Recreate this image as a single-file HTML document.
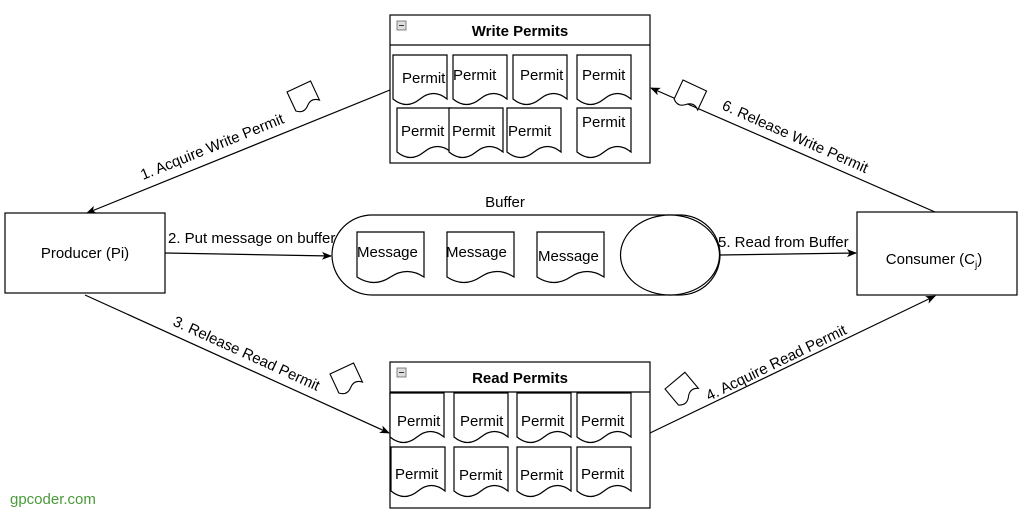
<!DOCTYPE html>
<html><head><meta charset="utf-8"><style>
html,body{margin:0;padding:0;background:#fff;}
svg{display:block;font-family:"Liberation Sans",sans-serif;}
</style></head><body>
<svg width="1024" height="518" viewBox="0 0 1024 518" xmlns="http://www.w3.org/2000/svg">
<defs>
<path id="doc" d="M0,0 H54 V44 Q40.5,33 27,44 T0,44 Z" fill="#fff" stroke="#000" stroke-width="1.2"/>
<path id="mdoc" d="M0,0 H67 V45 Q50,34 33.5,45 T0,45 Z" fill="#fff" stroke="#000" stroke-width="1.2"/>
<path id="sdoc" d="M0,0 H26 V21 Q19.5,15 13,21 T0,21 Z" fill="#fff" stroke="#000" stroke-width="1.1"/>
<marker id="ah" markerWidth="10" markerHeight="10" refX="9" refY="5" orient="auto" markerUnits="userSpaceOnUse">
<path d="M0,1 L10,5 L0,9 L2.5,5 Z" fill="#000"/>
</marker>
</defs>
<g stroke="#000" stroke-width="1.2" fill="none">
<line x1="390" y1="90" x2="87" y2="213" marker-end="url(#ah)"/>
<line x1="935" y1="212" x2="651" y2="88" marker-end="url(#ah)"/>
<line x1="165" y1="253" x2="331" y2="256" marker-end="url(#ah)"/>
<line x1="720" y1="255" x2="856" y2="253" marker-end="url(#ah)"/>
<line x1="85" y1="295" x2="389" y2="433" marker-end="url(#ah)"/>
<line x1="650" y1="433" x2="935" y2="296" marker-end="url(#ah)"/>
</g>
<rect x="5" y="213" width="160" height="80" fill="#fff" stroke="#000" stroke-width="1.2"/>
<text x="85" y="258" font-size="15" text-anchor="middle">Producer (Pi)</text>
<rect x="857" y="212" width="160" height="83" fill="#fff" stroke="#000" stroke-width="1.2"/>
<text x="934" y="264" font-size="15" text-anchor="middle">Consumer (C<tspan font-size="10" dy="4">j</tspan><tspan dy="-4">)</tspan></text>
<text x="505" y="207" font-size="15" text-anchor="middle">Buffer</text>
<rect x="332" y="215" width="388" height="80" rx="40" ry="40" fill="#fff" stroke="#000" stroke-width="1.2"/>
<ellipse cx="670" cy="255" rx="49.5" ry="40" fill="#fff" stroke="#000" stroke-width="1.2"/>
<use href="#mdoc" x="357" y="232"/><use href="#mdoc" x="447" y="232"/><use href="#mdoc" x="537" y="232"/>
<g font-size="15"><text x="357" y="257">Message</text><text x="446" y="257">Message</text><text x="538" y="261">Message</text></g>
<rect x="390" y="15" width="260" height="148" fill="#fff" stroke="#000" stroke-width="1.2"/>
<line x1="390" y1="45" x2="650" y2="45" stroke="#000" stroke-width="1.2"/>
<rect x="397" y="21" width="9" height="9" fill="#ddd" stroke="#666" stroke-width="0.8"/><line x1="399" y1="25.5" x2="404" y2="25.5" stroke="#333"/>
<text x="520" y="36" font-size="15" font-weight="bold" text-anchor="middle">Write Permits</text>
<use href="#doc" x="393" y="55"/><use href="#doc" x="453" y="55"/><use href="#doc" x="513" y="55"/><use href="#doc" x="577" y="55"/>
<use href="#doc" x="397" y="108"/><use href="#doc" x="449" y="108"/><use href="#doc" x="507" y="108"/><use href="#doc" x="577" y="108"/>
<g font-size="15"><text x="402" y="83">Permit</text><text x="453" y="80">Permit</text><text x="520" y="80">Permit</text><text x="582" y="80">Permit</text>
<text x="401" y="136">Permit</text><text x="452" y="136">Permit</text><text x="508" y="136">Permit</text><text x="582" y="127">Permit</text></g>
<rect x="390" y="362" width="260" height="146" fill="#fff" stroke="#000" stroke-width="1.2"/>
<line x1="390" y1="392" x2="650" y2="392" stroke="#000" stroke-width="1.2"/>
<rect x="397" y="368" width="9" height="9" fill="#ddd" stroke="#666" stroke-width="0.8"/><line x1="399" y1="372.5" x2="404" y2="372.5" stroke="#333"/>
<text x="520" y="383" font-size="15" font-weight="bold" text-anchor="middle">Read Permits</text>
<use href="#doc" x="390" y="393"/><use href="#doc" x="454" y="393"/><use href="#doc" x="517" y="393"/><use href="#doc" x="577" y="393"/>
<use href="#doc" x="391" y="447"/><use href="#doc" x="454" y="447"/><use href="#doc" x="517" y="447"/><use href="#doc" x="577" y="447"/>
<g font-size="15"><text x="397" y="426">Permit</text><text x="460" y="426">Permit</text><text x="521" y="426">Permit</text><text x="581" y="426">Permit</text>
<text x="395" y="479">Permit</text><text x="459" y="480">Permit</text><text x="520" y="480">Permit</text><text x="581" y="479">Permit</text></g>
<g font-size="15">
<text x="168" y="243">2. Put message on buffer</text>
<text x="718" y="247">5. Read from Buffer</text>
<text transform="translate(143,180) rotate(-22)">1. Acquire Write Permit</text>
<text transform="translate(721,109) rotate(24)">6. Release Write Permit</text>
<text transform="translate(172,325) rotate(24.5)">3. Release Read Permit</text>
<text transform="translate(709,401) rotate(-26)">4. Acquire Read Permit</text>
</g>
<use href="#sdoc" transform="translate(287,92) rotate(-25)"/>
<use href="#sdoc" transform="translate(683,80) rotate(25)"/>
<use href="#sdoc" transform="translate(330,374) rotate(-25)"/>
<use href="#sdoc" transform="translate(665,389) rotate(-40)"/>
<text x="10" y="504" font-size="15" fill="#4a9a3c">gpcoder.com</text>
</svg>
</body></html>
